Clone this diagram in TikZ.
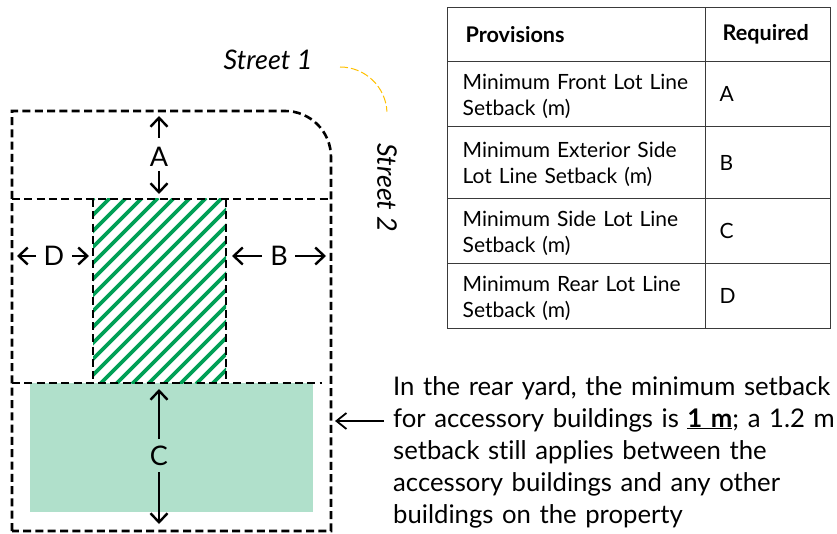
\documentclass[tikz,border=0pt]{standalone}
\usepackage{fontspec}
\setmainfont[Ligatures=NoCommon]{Lato}
\usetikzlibrary{arrows.meta}
\definecolor{hatchgreen}{HTML}{00A056}
\definecolor{yardgreen}{HTML}{B0E0CB}
\definecolor{streetyellow}{HTML}{FFC000}
\definecolor{tablegrey}{HTML}{3A3A3A}
\newcommand{\cellpush}{\rule{0pt}{19pt}}
\tikzset{
  lotline/.style={line width=2.6pt,dash pattern=on 8pt off 4.3pt,black},
  dim/.style={line width=2.6pt,-{Straight Barb[length=9pt,width=17pt,line width=2.4pt]},black},
  dimlabel/.style={font=\fontsize{27}{27}\selectfont,inner sep=0pt},
  streetlabel/.style={font=\fontsize{27}{27}\selectfont\itshape,inner sep=0pt},
  cell/.style={draw=tablegrey,line width=1.3pt,anchor=north west,inner sep=0pt,align=left,font=\fontsize{21}{26}\selectfont},
  headcell/.style={cell,font=\fontsize{21.6}{26}\selectfont\bfseries},
  notetext/.style={font=\fontsize{25.7}{32}\selectfont,inner sep=0pt,anchor=north west,align=left,text width=445pt}
}
\begin{document}
\begin{tikzpicture}[x=1pt,y=-1pt]
\useasboundingbox (0,0) rectangle (837,534);
% rear yard
\fill[yardgreen] (30,383) rectangle (313,512);
% hatched building
\begin{scope}
  \clip (93,199) rectangle (226,383);
  \foreach \c in {292,308,...,612}{
    \draw[hatchgreen,line width=3.6pt] (\c-199+1,199-1) -- (\c-383-1,383+1);
  }
\end{scope}
\draw[lotline] (93,199) -- (93,383);
\draw[lotline] (226,199) -- (226,383);
% lot lines
\draw[lotline] (12,531) -- (12,111) -- (285,111) arc[start angle=-90,end angle=0,radius=46] -- (331,531) -- cycle;
\draw[lotline] (12,199) -- (331,199);
\draw[lotline] (12,383) -- (322,383);
% street marker
\draw[streetyellow,line width=1pt,dash pattern=on 8pt off 3pt] (340,67) arc[start angle=-90,end angle=-3,radius=47];
\node[streetlabel] (s1) at (268,60) {Street 1};
\node[streetlabel,rotate=-90] (s2) at (387,188) {Street 2};
% dimension labels and arrows
\coordinate (atop) at (159,116);
\coordinate (abot) at (159,194);
\coordinate (dleft) at (17,256);
\coordinate (dright) at (89,256);
\coordinate (bleft) at (232,256);
\coordinate (bright) at (326,256);
\coordinate (ctop) at (159,389);
\coordinate (cbot) at (159,524);
\coordinate (notearrow) at (335,421);
\node[dimlabel] (A) at (159,157) {A};
\node[dimlabel] (D) at (54,256) {D};
\node[dimlabel] (B) at (279,256) {B};
\node[dimlabel] (C) at (159,456) {C};
\draw[dim] (159,138) -- (atop);
\draw[dim] (159,171) -- (abot);
\draw[dim] (36,256) -- (dleft);
\draw[dim] (72,256) -- (dright);
\draw[dim] (262,256) -- (bleft);
\draw[dim] (295,256) -- (bright);
\draw[dim] (159,439) -- (ctop);
\draw[dim] (159,472) -- (cbot);
% table
\node[headcell,minimum width=258pt,minimum height=54pt,text width=222pt] (h1) at (447,7) {Provisions};
\node[headcell,minimum width=125pt,minimum height=54pt,text width=91pt] (h2) at (705,7) {Required};
\node[cell,minimum width=258pt,minimum height=65pt,text width=228pt] (r1) at (447,61) {\cellpush Minimum Front Lot Line\\Setback (m)};
\node[cell,minimum width=125pt,minimum height=65pt,text width=97pt] (v1) at (705,61) {A};
\node[cell,minimum width=258pt,minimum height=72pt,text width=228pt] (r2) at (447,126) {\cellpush Minimum Exterior Side\\Lot Line Setback (m)};
\node[cell,minimum width=125pt,minimum height=72pt,text width=97pt] (v2) at (705,126) {B};
\node[cell,minimum width=258pt,minimum height=65pt,text width=228pt] (r3) at (447,198) {\cellpush Minimum Side Lot Line\\Setback (m)};
\node[cell,minimum width=125pt,minimum height=65pt,text width=97pt] (v3) at (705,198) {C};
\node[cell,minimum width=258pt,minimum height=65pt,text width=228pt] (r4) at (447,263) {\cellpush Minimum Rear Lot Line\\Setback (m)};
\node[cell,minimum width=125pt,minimum height=65pt,text width=97pt] (v4) at (705,263) {D};
% note
\node[notetext] (note) at (393,376) {In the rear yard, the minimum setback\\for accessory buildings is \underline{\textbf{1 m}}; a 1.2 m\\setback still applies between the\\accessory buildings and any other\\buildings on the property};
\draw[line width=1.9pt,-{Straight Barb[length=10pt,width=16pt,line width=1.8pt]}] (384,421) -- (notearrow);
\end{tikzpicture}
\end{document}
